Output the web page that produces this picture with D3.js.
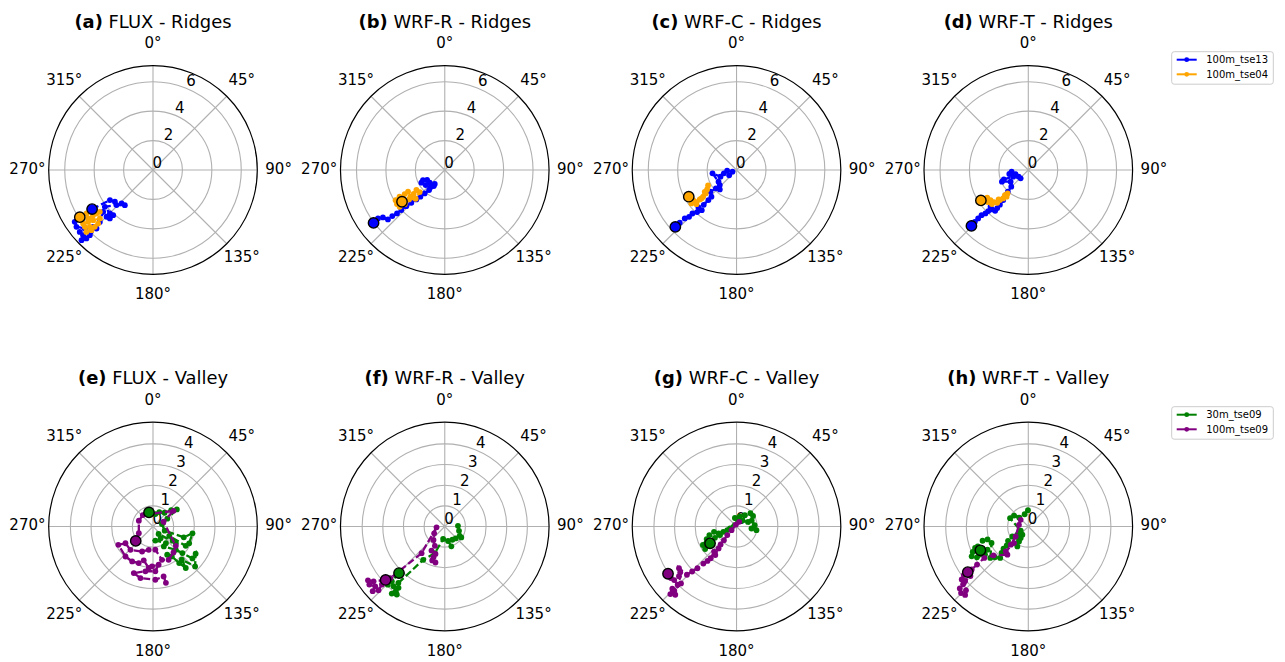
<!DOCTYPE html>
<html>
<head>
<meta charset="utf-8">
<script src="https://cdn.jsdelivr.net/npm/d3@7"></script>
<style>
  body { margin: 0; background: #fff; }
  svg { font-family: "DejaVu Sans", sans-serif; }
</style>
</head>
<body>
<div id="chart"></div>
<script>
// values: [direction in degrees, speed]
const ridgeA_tse13 = [[237.3,4.92],[235.1,3.57],[230.2,3.37],[223.2,3.12],[218.7,3.06],[226.1,3.44],[232.6,4.12],[224.8,4.16],[221.4,4.09],[221.7,4.41],[224.8,4.48],[230,4.42],[225.7,5.05],[226.5,5.61],[224,5.53],[224.1,6.17],[224.2,6.49],[225.5,6.81],[227,6.5],[229.8,6.52],[229.4,6.11],[233.4,6.48],[236.5,6.38],[237.1,6.06]];
const ridgeA_tse04 = [[237.2,5.92],[236.8,5.4],[233.2,5.5],[233,5.1],[232.4,4.85],[231.8,4.6],[227.6,4.89],[230,5.31],[231.4,5.64],[232.6,5.98],[230.2,6.03],[227.1,6.18],[225.6,5.85],[228,5.78],[225.7,5.53],[225.7,5.21]];
const ridgeB_tse13 = [[233.4,6.03],[234,5.61],[232.5,5.3],[229,5.12],[228.7,4.75],[227.7,4.39],[227.3,4.02],[226.8,3.59],[225.6,3.18],[224,2.78],[222.4,2.46],[220.6,2.1],[218,1.73],[214.5,1.32],[215.5,1.17],[229.8,1.34],[240.5,1.38],[245.2,1.63],[241.5,1.81],[231.7,1.65],[219.6,1.53]];
const ridgeB_tse04 = [[233.4,3.62],[234.5,3.99],[238.5,3.92],[239.4,3.57],[239,3.18],[239.4,2.9],[232.2,2.96],[232.3,2.67],[234.8,2.36],[228.6,2.27],[225.3,2.78],[230.6,3.15],[229.6,3.58],[230.8,3.96]];
const ridgeC_tse13 = [[227.1,5.68],[227.1,5.27],[226.9,4.82],[225.4,4.53],[225.4,4.21],[223.1,3.92],[220.9,3.61],[225.5,3.63],[223.3,3.25],[223,2.8],[223.2,2.49],[230.2,2.31],[228.4,1.88],[220.8,1.74],[228,1.53],[237,1.46],[262.1,1.65],[247.4,1.18],[255.3,0.89],[265.9,0.64],[247.4,0.3],[234,0.62]];
const ridgeC_tse04 = [[240.8,3.72],[233.5,3.82],[232.5,3.55],[231.3,3.2],[231.3,2.91],[232.7,2.63],[236.6,2.4],[241.6,2.2],[235.6,2.62],[231,3.07],[229.6,3.58],[235.3,3.59]];
const ridgeD_tse13 = [[225.5,5.42],[225.9,5.06],[226,4.74],[226,4.42],[224.6,4.15],[224.3,3.9],[225.8,3.58],[222.7,3.65],[219.1,3.57],[219.2,3.34],[219.3,3.05],[219.8,2.66],[221.8,2.29],[223.2,2.03],[225.6,1.62],[236.6,1.44],[246.1,1.96],[249,1.78],[246,1.12],[258.1,1.32],[264.3,1.14],[252.5,0.91],[235.4,0.8],[222.6,0.77]];
const ridgeD_tse04 = [[237.3,3.83],[236.5,3.62],[236,3.37],[231.6,3.51],[226.9,3.39],[231.5,3.28],[227,3.2],[223.5,3.07],[225.3,2.84],[223.4,2.81],[221.4,2.58],[219.1,2.34],[221.5,2.13],[223,2.33]];

const valleyE_30m = [[344.2,0.71],[10.6,0.61],[23.6,0.76],[40.1,0.87],[48,1.19],[54.4,1.42],[61.3,0.79],[74.5,0.45],[109.7,0.6],[109.3,1.58],[99.8,1.94],[114.9,1.93],[120.6,1.84],[120.2,0.91],[125.8,1.17],[126.2,1.37],[142.9,0.45],[147.1,0.68],[170.6,0.69],[142.3,1.02],[151.4,1.1],[135.6,1.58],[132.1,1.92],[129,2.46],[122.6,2.45],[133.5,2.81],[139.1,2.13],[141.7,2.56],[144.4,2.18],[147.8,1.71],[153.3,1.53]];
const valleyE_100m = [[230.1,1.09],[244.5,0.76],[292.1,0.74],[318.1,0.74],[52.5,1.25],[65.6,0.56],[130.3,1.45],[141.7,1.6],[154.9,1.78],[165,1.67],[174.3,1.13],[190.4,1.15],[203.6,1.32],[224,1.57],[238.7,1.56],[242.1,1.9],[222.5,1.97],[210.8,1.97],[201.3,1.9],[195.3,1.7],[185.9,2.02],[181.4,1.93],[171.6,1.87],[177,2.17],[189.6,2.2],[202.4,2.44],[193.7,2.57],[177.5,2.58],[168,2.47],[167.1,2.8]];
const valleyF_30m = [[224.5,3.16],[224,3.69],[224.4,3.94],[220.7,3.81],[217.1,3.93],[215.2,4.03],[218.3,4.14],[217,3.72],[219.4,3.54],[212.9,1.92],[200.4,1.38],[187.5,0.61],[167.2,0.72],[161.6,1.01],[150.1,0.74],[137.5,0.78],[121.9,0.85],[123.4,0.96],[106.8,0.72],[87.1,0.64]];
const valleyF_100m = [[227.9,3.86],[232.4,4.35],[235,4.54],[232.4,4.61],[229.3,4.44],[228.1,4.69],[226.1,4.45],[227.3,4.14],[226.5,3.64],[221,1.71],[264.3,0.4],[237.4,0.61],[220,0.85],[207.1,1.05],[208.9,1.33],[198.7,1.4],[200.2,1.58],[200.3,1.75],[194.5,1.8]];
const valleyG_30m = [[237.5,1.52],[234.4,1.87],[241.2,1.86],[247.1,1.57],[252.4,1.38],[242.4,1.18],[242.5,0.9],[256.8,1.12],[248.7,0.93],[248.2,0.69],[248.6,0.48],[253.3,0.33],[5.2,0.35],[349.1,0.42],[18.4,0.51],[36.3,0.68],[46.4,0.93],[57.4,0.95],[68.6,0.79],[85.8,0.88],[100.4,0.98],[97.6,0.73],[68.2,0.6],[45,0.41]];
const valleyG_100m = [[235.4,4.03],[231.8,4.04],[229.3,3.98],[225.3,4.01],[225.9,4.33],[224.4,4.58],[221.9,4.44],[224.1,4.33],[224.3,3.85],[229.2,3.68],[230.9,3.51],[234.1,3.44],[225.8,3.35],[224.6,3.06],[223.1,2.77],[221.8,2.41],[220.2,2.18],[219.1,1.98],[221.8,1.63],[216.7,1.72],[219.3,1.37],[221.6,1.16],[222.8,0.9],[227.1,0.61],[233.7,0.3],[341.6,0.1],[29.7,0.26]];
const valleyH_30m = [[243.6,2.59],[248,2.78],[245.4,2.96],[242.2,3.1],[239,2.9],[237,2.5],[240.4,2.27],[248.6,2.63],[252.7,2.32],[252.4,2.07],[245.8,1.95],[230.4,2.39],[227.4,2.2],[221.8,2.04],[225.4,1.82],[228.2,1.61],[228.7,1.39],[234.8,1.2],[238,0.91],[232.9,0.66],[208.8,1.1],[211.9,0.85],[213.3,0.67],[215.8,0.49],[240.5,0.42],[294.4,0.97],[307.5,0.87],[314,0.62],[343.4,0.62],[358.8,0.79]];
const valleyH_100m = [[233,3.67],[233,3.91],[231.5,4.12],[228.4,4.22],[227.9,4.47],[225.3,4.58],[222.7,4.51],[224.3,4.32],[229.2,4.04],[229.4,3.69],[232.8,3.44],[233.4,3.09],[234.5,2.62],[230.4,2.19],[216.5,1.7],[222.2,1.62],[220.7,1.06],[223.9,1.22],[231.7,0.78],[280.1,0.46],[311,0.49]];

const ridgeNames = ['100m_tse13', '100m_tse04'];
const valleyNames = ['30m_tse09', '100m_tse09'];
const ridgeTicks = [0, 2, 4, 6];
const valleyTicks = [0, 1, 2, 3, 4];
const angleTicks = [0, 45, 90, 135, 180, 225, 270, 315];

const width = 1285, height = 662;
const R = 104.3;
const tickFs = 15, titleFs = 17.9;

const rows = [
  {y: 170, rmax: 7.09, ticks: ridgeTicks, colors: ['#0000ff', '#ffa500'], names: ridgeNames, legendY: 51.7},
  {y: 526.5, rmax: 5.05, ticks: valleyTicks, colors: ['#008000', '#800080'], names: valleyNames, legendY: 406.7}
];
const panels = [
  {tag: '(a)', title: 'FLUX - Ridges', row: 0, col: 0, series: [ridgeA_tse13, ridgeA_tse04]},
  {tag: '(b)', title: 'WRF-R - Ridges', row: 0, col: 1, series: [ridgeB_tse13, ridgeB_tse04]},
  {tag: '(c)', title: 'WRF-C - Ridges', row: 0, col: 2, series: [ridgeC_tse13, ridgeC_tse04]},
  {tag: '(d)', title: 'WRF-T - Ridges', row: 0, col: 3, series: [ridgeD_tse13, ridgeD_tse04]},
  {tag: '(e)', title: 'FLUX - Valley', row: 1, col: 0, series: [valleyE_30m, valleyE_100m]},
  {tag: '(f)', title: 'WRF-R - Valley', row: 1, col: 1, series: [valleyF_30m, valleyF_100m]},
  {tag: '(g)', title: 'WRF-C - Valley', row: 1, col: 2, series: [valleyG_30m, valleyG_100m]},
  {tag: '(h)', title: 'WRF-T - Valley', row: 1, col: 3, series: [valleyH_30m, valleyH_100m]}
];

const colX = d3.scaleLinear().domain([0, 3]).range([153, 1028.3]);
const rad = d => d * Math.PI / 180;

const svg = d3.select('#chart').append('svg')
  .attr('width', width).attr('height', height);

panels.forEach(p => {
  const row = rows[p.row];
  const cx = colX(p.col), cy = row.y;
  const r = d3.scaleLinear().domain([0, row.rmax]).range([0, R]);
  const g = svg.append('g').attr('transform', `translate(${cx},${cy})`);

  // title
  const t = svg.append('text')
    .attr('x', cx).attr('y', cy - 142.1)
    .attr('text-anchor', 'middle').attr('font-size', titleFs);
  t.append('tspan').attr('font-weight', 'bold').text(p.tag);
  t.append('tspan').text(' ' + p.title);

  // grid
  g.selectAll('.ring').data(row.ticks.filter(d => d > 0)).join('circle')
    .attr('class', 'ring')
    .attr('r', d => r(d))
    .attr('fill', 'none').attr('stroke', '#b0b0b0').attr('stroke-width', 1.1);
  g.selectAll('.spoke').data(angleTicks).join('line')
    .attr('class', 'spoke')
    .attr('x1', 0).attr('y1', 0)
    .attr('x2', d => d3.pointRadial(rad(d), R)[0])
    .attr('y2', d => d3.pointRadial(rad(d), R)[1])
    .attr('stroke', '#b0b0b0').attr('stroke-width', 1.1);
  g.append('circle').attr('r', R)
    .attr('fill', 'none').attr('stroke', '#000').attr('stroke-width', 1.2);

  // angle labels
  g.selectAll('.alabel').data(angleTicks).join('text')
    .attr('class', 'alabel')
    .attr('x', d => d3.pointRadial(rad(d), R + 21.3)[0])
    .attr('y', d => d3.pointRadial(rad(d), R + 21.3)[1] + 0.245 * tickFs)
    .attr('text-anchor', 'middle').attr('font-size', tickFs)
    .text(d => d + '°');

  // radial labels at 22.5 deg
  g.selectAll('.rlabel').data(row.ticks).join('text')
    .attr('class', 'rlabel')
    .attr('x', d => d3.pointRadial(rad(22.5), r(d))[0] - 0.5)
    .attr('y', d => d3.pointRadial(rad(22.5), r(d))[1] - 2.4)
    .attr('font-size', tickFs)
    .text(d => d);

  // trajectories
  const line = d3.lineRadial()
    .angle(d => rad(d[0]))
    .radius(d => r(d[1]));
  p.series.forEach((s, i) => {
    const color = row.colors[i];
    g.append('path').datum(s)
      .attr('d', line)
      .attr('fill', 'none').attr('stroke', color)
      .attr('stroke-width', 2.3).attr('stroke-dasharray', '7,3');
    g.append('g').selectAll('circle').data(s).join('circle')
      .attr('cx', d => d3.pointRadial(rad(d[0]), r(d[1]))[0])
      .attr('cy', d => d3.pointRadial(rad(d[0]), r(d[1]))[1])
      .attr('r', 2.9).attr('fill', color);
  });
  // start markers
  p.series.forEach((s, i) => {
    const pt = d3.pointRadial(rad(s[0][0]), r(s[0][1]));
    g.append('circle')
      .attr('cx', pt[0]).attr('cy', pt[1]).attr('r', 5.2)
      .attr('fill', row.colors[i]).attr('stroke', '#000').attr('stroke-width', 1.4);
  });
});

// legends
rows.forEach(row => {
  const lg = svg.append('g').attr('transform', `translate(1171.7,${row.legendY})`);
  lg.append('rect').attr('width', 101.6).attr('height', 32.5).attr('rx', 2.5)
    .attr('fill', '#fff').attr('stroke', '#cccccc').attr('stroke-width', 1);
  row.names.forEach((n, i) => {
    const y = 8 + i * 14.6;
    lg.append('line').attr('x1', 5).attr('x2', 25).attr('y1', y).attr('y2', y)
      .attr('stroke', row.colors[i]).attr('stroke-width', 2);
    lg.append('circle').attr('cx', 15).attr('cy', y).attr('r', 2.4).attr('fill', row.colors[i]);
    lg.append('text').attr('x', 34.5).attr('y', y + 3.6)
      .attr('font-size', 10).text(n);
  });
});
</script>
</body>
</html>
